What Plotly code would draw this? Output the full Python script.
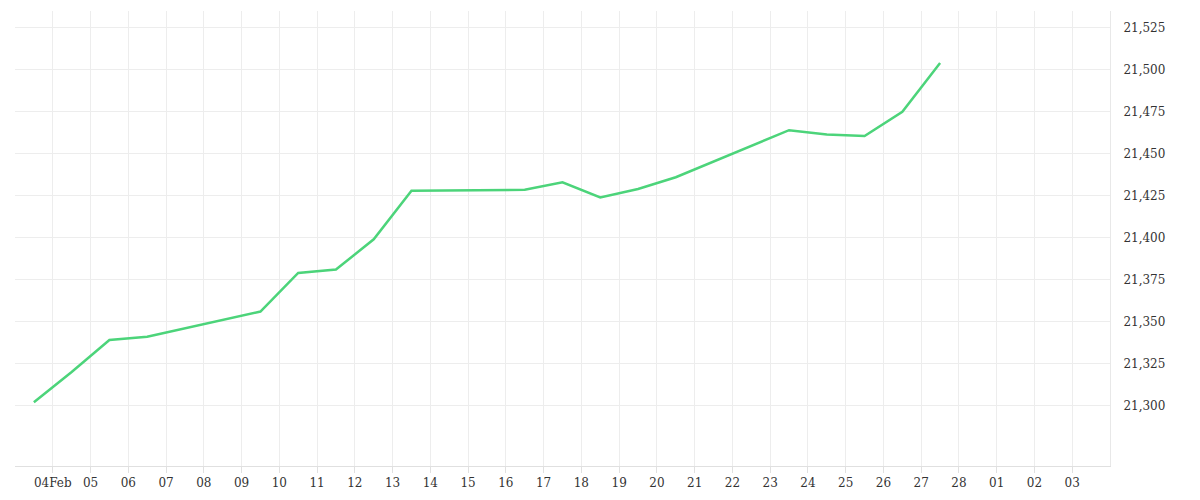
import plotly.graph_objects as go

dates = ["2025-02-03 12:00","2025-02-04 12:00","2025-02-05 12:00","2025-02-06 12:00","2025-02-09 12:00",
         "2025-02-10 12:00","2025-02-11 12:00","2025-02-12 12:00","2025-02-13 12:00","2025-02-16 12:00",
         "2025-02-17 12:00","2025-02-18 12:00","2025-02-19 12:00","2025-02-20 12:00","2025-02-23 12:00",
         "2025-02-24 12:00","2025-02-25 12:00","2025-02-26 12:00","2025-02-27 12:00"]
values = [21302,21320,21339,21341,21356,21379,21381,21399,21428,21428.5,21433,21424,21429,21436,21464,
          21461.5,21460.5,21475,21504]
tick_vals = ["2025-02-%02d" % d for d in range(4, 29)] + ["2025-03-01","2025-03-02","2025-03-03"]
tick_text = ["04Feb"] + ["%02d" % d for d in range(5, 29)] + ["01","02","03"]

fig = go.Figure(go.Scatter(x=dates, y=values, mode="lines",
                           line=dict(color="#4cd47a", width=2.5)))
fig.update_layout(width=1200, height=500, plot_bgcolor="white", paper_bgcolor="white",
                  margin=dict(l=7, r=98, t=3, b=42, pad=0), showlegend=False,
                  font=dict(family="DejaVu Serif", size=12, color="#333"))
fig.update_xaxes(range=["2025-02-03", "2025-03-04"], tickvals=tick_vals, ticktext=tick_text,
                 showgrid=True, gridcolor="#ededed", showline=True, linecolor="#e0e0e0",
                 ticks="outside", tickcolor="#e0e0e0", ticklen=6, zeroline=False)
fig.update_yaxes(side="right", range=[21264, 21535], tickvals=list(range(21300, 21526, 25)),
                 tickformat=",", showgrid=True, gridcolor="#ededed", zeroline=False,
                 showline=True, linecolor="#e8e8e8", ticks="", ticklabelstandoff=10)
fig.write_html("out.html")
